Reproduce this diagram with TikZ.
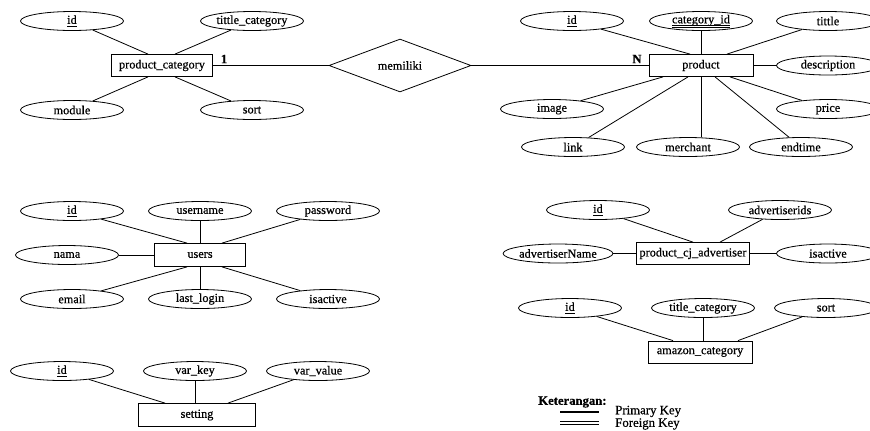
\documentclass[tikz,border=0pt]{standalone}
\usepackage{fontspec}
\setmainfont{Liberation Serif}[FakeBold=0.6]
\usetikzlibrary{shapes.geometric,calc}
\newcommand\dblul[1]{\setbox0\hbox{#1}\rlap{\rule[-1.7pt]{\wd0}{0.45pt}}\rlap{\rule[-2.9pt]{\wd0}{0.45pt}}\box0}
\begin{document}
\begin{tikzpicture}[x=0.75pt,y=-0.75pt,
  every node/.style={font=\fontsize{9.2}{10}\selectfont},
  attr/.style={draw,ellipse,line width=0.6pt,minimum width=77.25pt,minimum height=14.25pt,inner sep=0pt},
  ent/.style={draw,rectangle,line width=0.6pt,minimum height=16.5pt,inner sep=0pt},
  rel/.style={draw,diamond,line width=0.6pt,minimum width=106.5pt,minimum height=36pt,inner sep=0pt},
  conn/.style={line width=0.6pt},
  card/.style={font=\fontsize{9.5}{10}\selectfont\bfseries}]
\useasboundingbox (0,0) rectangle (870,430);
\clip (0,0) rectangle (870,430);

% ---------- product_category ----------
\node[ent,minimum width=75.75pt] (pc) at (162,65.5) {product\_category};
\node[attr] (id1) at (72,21) {\underline{id}};
\node[attr] (tc1) at (252,21) {tittle\_category};
\node[attr] (mod) at (72,110) {module};
\node[attr] (sort1) at (252,110) {sort};
\draw[conn] (id1) -- ($(pc.north)+(-14,0)$);
\draw[conn] (tc1) -- ($(pc.north)+(13,0)$);
\draw[conn] (mod) -- ($(pc.south)+(-14,0)$);
\draw[conn] (sort1) -- ($(pc.south)+(13,0)$);

% ---------- relationship ----------
\node[rel] (mem) at (400,65.5) {memiliki};
\node[ent,minimum width=78pt] (pr) at (701,65.5) {product};
\draw[conn] (pc) -- (mem);
\draw[conn] (mem) -- (pr);
\node[card] (c1) at (224,59) {1};
\node[card] (cn) at (637,59) {N};

% ---------- product ----------
\node[attr] (pid) at (572,21) {\underline{id}};
\node[attr] (catid) at (701,21) {\dblul{category\_id}};
\node[attr] (tittle) at (828,21) {tittle};
\node[attr] (desc) at (828,65.5) {description};
\node[attr] (price) at (828,109) {price};
\node[attr] (endtime) at (801,147) {endtime};
\node[attr] (merchant) at (688,147) {merchant};
\node[attr] (link) at (573,147) {link};
\node[attr] (image) at (552,109) {image};
\draw[conn] (pid) -- ($(pr.north)+(-11,0)$);
\draw[conn] (catid) -- (pr.north);
\draw[conn] (tittle) -- ($(pr.north)+(26,0)$);
\draw[conn] (desc) -- (pr);
\draw[conn] (image) -- ($(pr.south)+(-38,0)$);
\draw[conn] (link) -- ($(pr.south)+(-13,0)$);
\draw[conn] (pr.south) -- (pr.south |- merchant.north);
\draw[conn] (endtime) -- ($(pr.south)+(14,0)$);
\draw[conn] (price) -- ($(pr.south)+(29,0)$);

% ---------- users ----------
\node[ent,minimum width=68.25pt,minimum height=17.25pt] (u) at (200,255) {users};
\node[attr] (uid) at (72,211) {\underline{id}};
\node[attr] (uname) at (200,211) {username};
\node[attr] (pw) at (328,211) {password};
\node[attr] (nama) at (67,255) {nama};
\node[attr] (email) at (72,299) {email};
\node[attr] (ll) at (200,299) {last\_login};
\node[attr] (uact) at (328,299) {isactive};
\draw[conn] (uid) -- ($(u.north)+(-13,0)$);
\draw[conn] (uname) -- (u.north);
\draw[conn] (pw) -- ($(u.north)+(22,0)$);
\draw[conn] (nama) -- (u);
\draw[conn] (email) -- ($(u.south)+(-13,0)$);
\draw[conn] (ll) -- (u.south);
\draw[conn] (uact) -- ($(u.south)+(22,0)$);

% ---------- product_cj_advertiser ----------
\node[ent,minimum width=84.75pt] (cj) at (693,253.5) {product\_cj\_advertiser};
\node[attr] (cid) at (598,210) {\underline{id}};
\node[attr] (advids) at (780,210) {advertiserids};
\node[attr] (advname) at (558,253.5) {advertiserName};
\node[attr] (cact) at (828,253.5) {isactive};
\draw[conn] (cid) -- (cj.north);
\draw[conn] (advids) -- ($(cj.north)+(27,0)$);
\draw[conn] (advname) -- (cj);
\draw[conn] (cact) -- (cj);

% ---------- amazon_category ----------
\node[ent,minimum width=78pt,minimum height=16.5pt] (am) at (700,352) {amazon\_category};
\node[attr] (aid) at (570,308) {\underline{id}};
\node[attr] (atc) at (703,308) {title\_category};
\node[attr] (asort) at (826,308) {sort};
\draw[conn] (aid) -- ($(am.north)+(-27,0)$);
\draw[conn] (atc) -- (atc |- am.north);
\draw[conn] (asort) -- ($(am.north)+(38,0)$);

% ---------- setting ----------
\node[ent,minimum width=87.75pt,minimum height=17.25pt] (st) at (197,415) {setting};
\node[attr] (sid) at (62,371) {\underline{id}};
\node[attr] (vk) at (195,371) {var\_key};
\node[attr] (vv) at (318,371) {var\_value};
\draw[conn] (sid) -- ($(st.north)+(-32,0)$);
\draw[conn] (vk) -- (vk |- st.north);
\draw[conn] (vv) -- ($(st.north)+(31,0)$);

% ---------- legend ----------
\node[anchor=west,inner sep=0pt,font=\fontsize{9.5}{10}\selectfont\bfseries] (ket) at (538,402) {Keterangan:};
\coordinate (pk1) at (560,412);
\coordinate (pk2) at (599,412);
\coordinate (fka) at (560,421);
\coordinate (fkb) at (599,421);
\coordinate (fkc) at (560,424);
\coordinate (fkd) at (599,424);
\draw[line width=0.8pt] (pk1) -- (pk2);
\draw[line width=0.7pt] (fka) -- (fkb);
\draw[line width=0.7pt] (fkc) -- (fkd);
\node[anchor=north west,inner sep=0pt,align=left,font=\fontsize{9.6}{7.6}\selectfont] (keys) at (615,405.5) {Primary Key\\Foreign Key};
\end{tikzpicture}
\end{document}
